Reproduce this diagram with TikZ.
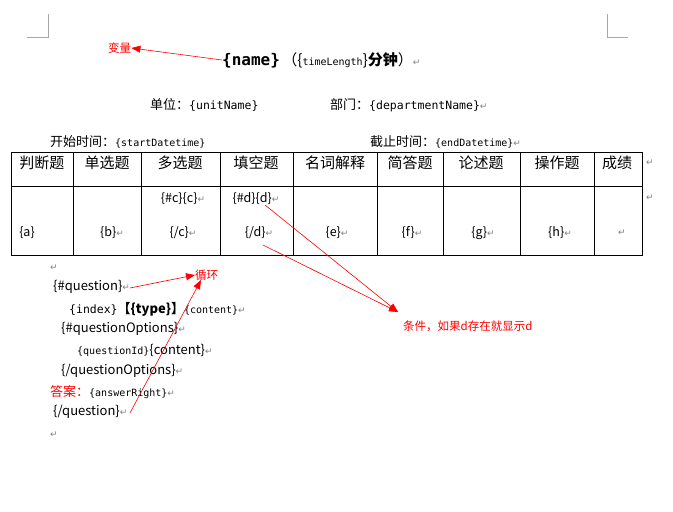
\documentclass[tikz,border=0pt]{standalone}
\usepackage{fontspec}
\setmainfont{Noto Sans CJK SC}
\newfontfamily\mono{DejaVu Sans Mono}
\newfontfamily\sym{DejaVu Sans}
\usetikzlibrary{arrows.meta}
\newcommand{\rt}{{\sym\color{gray}\fontsize{9}{9}\selectfont ↵}}
\begin{document}
\begin{tikzpicture}[x=1pt,y=-1pt,
  txt/.style={anchor=west,inner sep=0pt,font=\fontsize{13}{13}\selectfont},
  var/.style={anchor=west,inner sep=0pt,font=\mono\fontsize{10}{10}\selectfont},
  hdr/.style={inner sep=0pt,font=\fontsize{15}{15}\selectfont},
  cell/.style={inner sep=0pt,font=\fontsize{12.5}{12.5}\selectfont},
  red/.style={anchor=west,inner sep=0pt,text=red,font=\fontsize{11.5}{11.5}\selectfont},
  rarrow/.style={draw=red,-{Triangle[length=9pt,width=7pt]},line width=0.6pt},
  corner/.style={draw=gray!70,line width=0.6pt}]
\useasboundingbox (0,0) rectangle (673,512);
\fill[white] (0,0) rectangle (673,512);
% corners
\draw[corner] (27,37) -- (48,37) -- (48,14);
\draw[corner] (607,14) -- (607,37) -- (628,37);
% title
\node[red] (bl) at (108,48) {变量};
\node[anchor=west,inner sep=0pt] (title) at (222,60) {\mono\bfseries\fontsize{16}{16}\selectfont\{name\}\normalfont\fontsize{15}{15}\selectfont\,（\{{\mono\fontsize{10}{10}\selectfont timeLength}\}\textbf{分钟}）\rt};
\draw[rarrow] (title.west) -- (bl.east);
% unit line
\node[txt] (unit) at (150,105) {单位：{\mono\fontsize{11.5}{11.5}\selectfont\{unitName\}}};
\node[txt] (dept) at (330,105) {部门：{\mono\fontsize{11.5}{11.5}\selectfont\{departmentName\}}\rt};
\node[txt] (start) at (50,142) {开始时间：{\mono\fontsize{10}{10}\selectfont\{startDatetime\}}};
\node[txt] (end) at (370,142) {截止时间：{\mono\fontsize{10}{10}\selectfont\{endDatetime\}}\rt};
% table
\draw[line width=0.8pt] (11,152) rectangle (642,255);
\draw[line width=0.8pt] (11,186) -- (642,186);
\foreach \x in {73,141,220,293,377,443,520,594} \draw[line width=0.8pt] (\x,152) -- (\x,255);
\node[hdr] (h1) at (42,163) {判断题};
\node[hdr] (h2) at (107,163) {单选题};
\node[hdr] (h3) at (180,163) {多选题};
\node[hdr] (h4) at (256,163) {填空题};
\node[hdr] (h5) at (335,163) {名词解释};
\node[hdr] (h6) at (410,163) {简答题};
\node[hdr] (h7) at (481,163) {论述题};
\node[hdr] (h8) at (557,163) {操作题};
\node[hdr] (h9) at (617,163) {成绩};
\node[cell] (c1) at (183,199) {\{\#c\}\{c\}\rt};
\node[cell] (d1) at (256,199) {\{\#d\}\{d\}\rt};
\node[cell] (ca) at (27,233) {\{a\}};
\node[cell] (cb) at (112,233) {\{b\}\rt};
\node[cell] (c2) at (183,233) {\{/c\}\rt};
\node[cell] (d2) at (259,233) {\{/d\}\rt};
\node[cell] (ce) at (337,233) {\{e\}\rt};
\node[cell] (cf) at (412,233) {\{f\}\rt};
\node[cell] (cg) at (483,233) {\{g\}\rt};
\node[cell] (ch) at (560,233) {\{h\}\rt};
\node[cell] (ci) at (622,233) {\rt};
\node[cell] at (650,198) {\rt};
\node[cell] at (650,163) {\rt};
% question block
\node[txt] at (50,268) {\rt};
\node[txt] (q1) at (53,287) {\{\#question\}\rt};
\node[txt] (q2) at (69,309) {{\mono\fontsize{11.5}{11.5}\selectfont\{index\}}\textbf{【\{type\}】}{\mono\fontsize{10}{10}\selectfont\{content\}}\rt};
\node[txt] (q3) at (61,329) {\{\#questionOptions\}\rt};
\node[txt] (q4) at (77,350) {{\mono\fontsize{10}{10}\selectfont\{questionId\}}\{content\}\rt};
\node[txt] (q5) at (61,371) {\{/questionOptions\}\rt};
\node[txt] (q6) at (50,392) {\textcolor{red}{答案：}{\mono\fontsize{10}{10}\selectfont\{answerRight\}}\rt};
\node[txt] (q7) at (53,412) {\{/question\}\rt};
\node[txt] at (50,435) {\rt};
\node[red] (loop) at (195,275) {循环};
\coordinate (loopin) at (201,280);
\draw[rarrow] (130,288) -- (loop.west);
\draw[rarrow] (130,413) -- (loopin);
% condition
\node[red] (cond) at (403,326) {条件，如果d存在就显示d};
\coordinate (condtip) at (398,312);
\draw[rarrow] (265,205) -- (condtip);
\draw[rarrow] (263,245) -- (condtip);
\end{tikzpicture}
\end{document}
